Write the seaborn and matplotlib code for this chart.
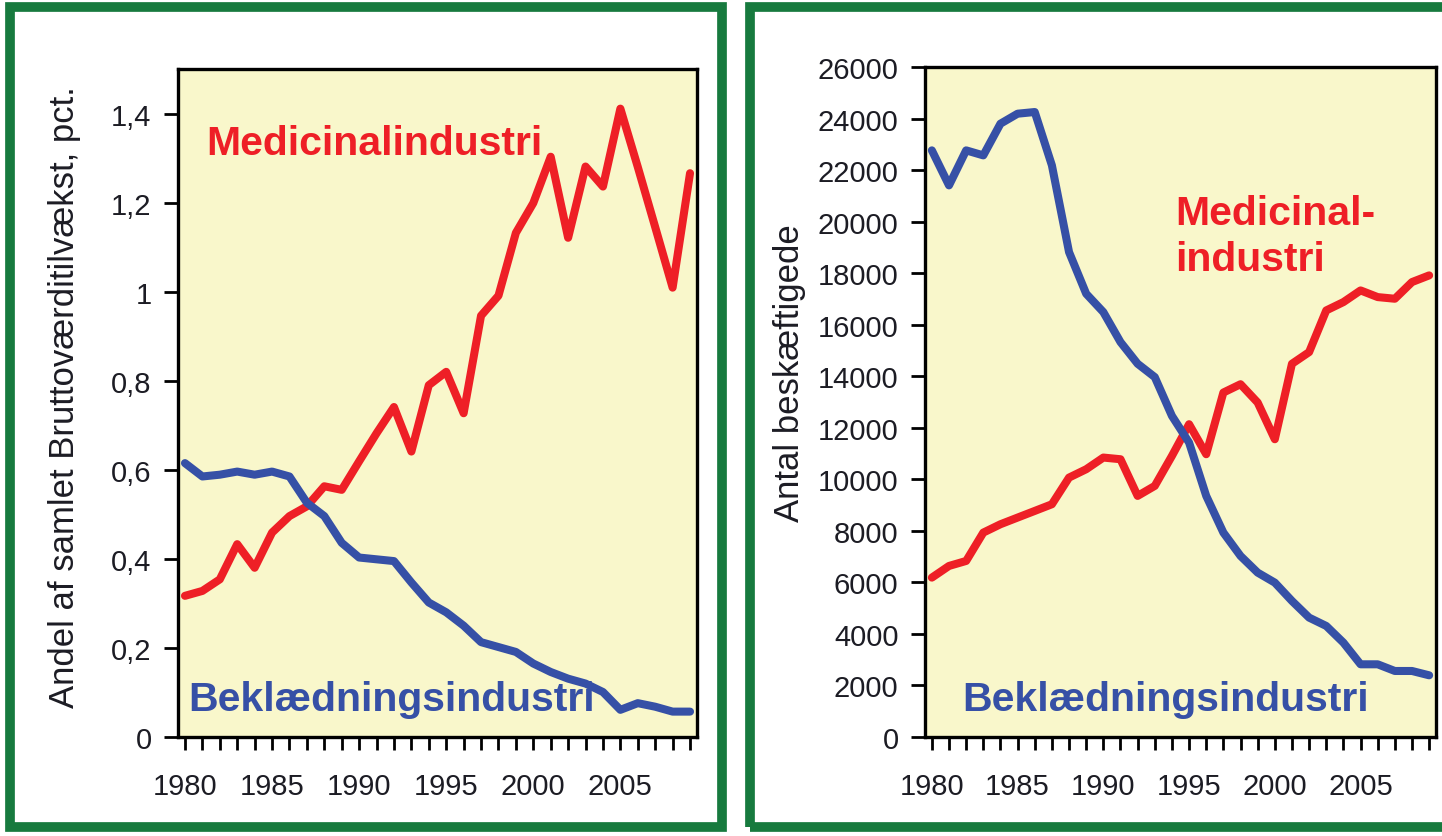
import numpy as np
import pandas as pd
import matplotlib
matplotlib.use("Agg")
import matplotlib.pyplot as plt
from matplotlib.patches import Rectangle
from matplotlib.ticker import FixedLocator, MultipleLocator, FuncFormatter
import seaborn as sns

# ---------------- data ----------------
years = list(range(1980, 2010))

# Left panel: share of total gross value added, pct.
medicinal_share = [0.317, 0.328, 0.354, 0.433, 0.380, 0.459, 0.496, 0.518, 0.563, 0.555,
                   0.619, 0.682, 0.741, 0.641, 0.790, 0.820, 0.727, 0.946, 0.991, 1.132,
                   1.199, 1.303, 1.121, 1.281, 1.236, 1.411, 1.28, 1.145, 1.009, 1.266]
clothing_share = [0.615, 0.585, 0.589, 0.596, 0.589, 0.596, 0.585, 0.526, 0.496, 0.436,
                  0.403, 0.399, 0.395, 0.347, 0.302, 0.280, 0.250, 0.213, 0.202, 0.191,
                  0.165, 0.146, 0.131, 0.120, 0.101, 0.061, 0.076, 0.068, 0.057, 0.057]

# Right panel: number employed
medicinal_emp = [6185, 6638, 6832, 7932, 8256, 8515, 8773, 9032, 10067, 10391,
                 10844, 10779, 9356, 9744, 10908, 12138, 10973, 13367, 13690, 12979,
                 11555, 14483, 14936, 16554, 16877, 17330, 17071, 17007, 17654, 17913]
clothing_emp = [22765, 21406, 22765, 22570, 23800, 24188, 24253, 22183, 18818, 17201,
                16489, 15325, 14484, 13966, 12461, 11426, 9356, 7932, 7026, 6379,
                5991, 5280, 4633, 4309, 3662, 2821, 2821, 2562, 2562, 2394]

series_names = ["Medicinalindustri", "Beklædningsindustri"]
right_med_lines = ["Medicinal-", "industri"]
left_ylabel = "Andel af samlet Bruttoværditilvækst, pct."
right_ylabel = "Antal beskæftigede"
major_years = [1980, 1985, 1990, 1995, 2000, 2005]
left_yticks = [0, 0.2, 0.4, 0.6, 0.8, 1.0, 1.2, 1.4]
right_yticks = list(range(0, 26001, 2000))

# ---------------- style ----------------
sns.set_theme(style="ticks")
plt.rcParams["font.family"] = ["Liberation Sans", "DejaVu Sans"]

RED = "#ee1f26"
BLUE = "#3650a6"
GREEN = "#177a3e"
PANEL = "#f9f7cb"
TXT = "#1c1c24"

W, H = 1442, 837
fig = plt.figure(figsize=(W / 100, H / 100), dpi=100)
fig.patch.set_facecolor("white")

# green frames (figure pixel coords)
def frame(x0, y0, x1, y1):
    fig.patches.append(Rectangle((x0 / W, 1 - y1 / H), (x1 - x0) / W, (y1 - y0) / H,
                                 transform=fig.transFigure, fill=False,
                                 edgecolor=GREEN, linewidth=7.0, zorder=0))

frame(9.5, 8, 722, 828)
frame(750, 8, 1460, 828)

ax1 = fig.add_axes([178 / W, 1 - 738 / H, 519 / W, 668 / H])
ax2 = fig.add_axes([925 / W, 1 - 738 / H, 511 / W, 670 / H])

palette = {series_names[0]: RED, series_names[1]: BLUE}

df1 = pd.DataFrame({"year": years * 2,
                    "value": medicinal_share + clothing_share,
                    "series": [series_names[0]] * len(years) + [series_names[1]] * len(years)})
df2 = pd.DataFrame({"year": years * 2,
                    "value": medicinal_emp + clothing_emp,
                    "series": [series_names[0]] * len(years) + [series_names[1]] * len(years)})

for ax, df in ((ax1, df1), (ax2, df2)):
    sns.lineplot(data=df, x="year", y="value", hue="series", palette=palette,
                 linewidth=5.8, legend=False, ax=ax, solid_capstyle="round",
                 solid_joinstyle="round", zorder=3)
    ax.set_facecolor(PANEL)
    ax.set_xlim(1979.6, 2009.4)
    ax.xaxis.set_major_locator(FixedLocator(major_years))
    ax.xaxis.set_minor_locator(MultipleLocator(1))
    ax.set_xlabel("")
    for s in ax.spines.values():
        s.set_visible(True)
        s.set_color("black")
        s.set_linewidth(2.4)
    ax.tick_params(axis="x", which="both", direction="out", length=9, width=2,
                   color="black", labelsize=21, labelcolor=TXT, pad=16)
    ax.tick_params(axis="y", which="major", direction="out", length=10, width=2,
                   color="black", labelsize=21, labelcolor=TXT, pad=9)

ax1.set_ylim(0, 1.5)
ax1.yaxis.set_major_locator(FixedLocator(left_yticks))
ax1.yaxis.set_major_formatter(FuncFormatter(lambda v, p: ("%g" % round(v, 1)).replace(".", ",")))
ax1.set_ylabel(left_ylabel, fontsize=25, color=TXT)
ax1.yaxis.set_label_coords(-0.186, 0.51)

ax2.set_ylim(0, 26000)
ax2.yaxis.set_major_locator(FixedLocator(right_yticks))
ax2.yaxis.set_major_formatter(FuncFormatter(lambda v, p: "%d" % v))
ax2.set_ylabel(right_ylabel, fontsize=25, color=TXT)
ax2.yaxis.set_label_coords(-0.232, 0.545)

# series labels (drawn beneath the lines, as in the original)
lab = dict(fontsize=29.5, fontweight="bold", ha="left", va="baseline", zorder=2)
ax1.text(1981.2, 1.309, series_names[0], color=RED, **lab)
ax1.text(1980.2, 0.061, series_names[1], color=BLUE, **lab)
ax2.text(1994.2, 19907, right_med_lines[0], color=RED, **lab)
ax2.text(1994.2, 18134, right_med_lines[1], color=RED, **lab)
ax2.text(1981.8, 1048, series_names[1], color=BLUE, **lab)

fig.savefig("out.png", dpi=100, facecolor="white")
